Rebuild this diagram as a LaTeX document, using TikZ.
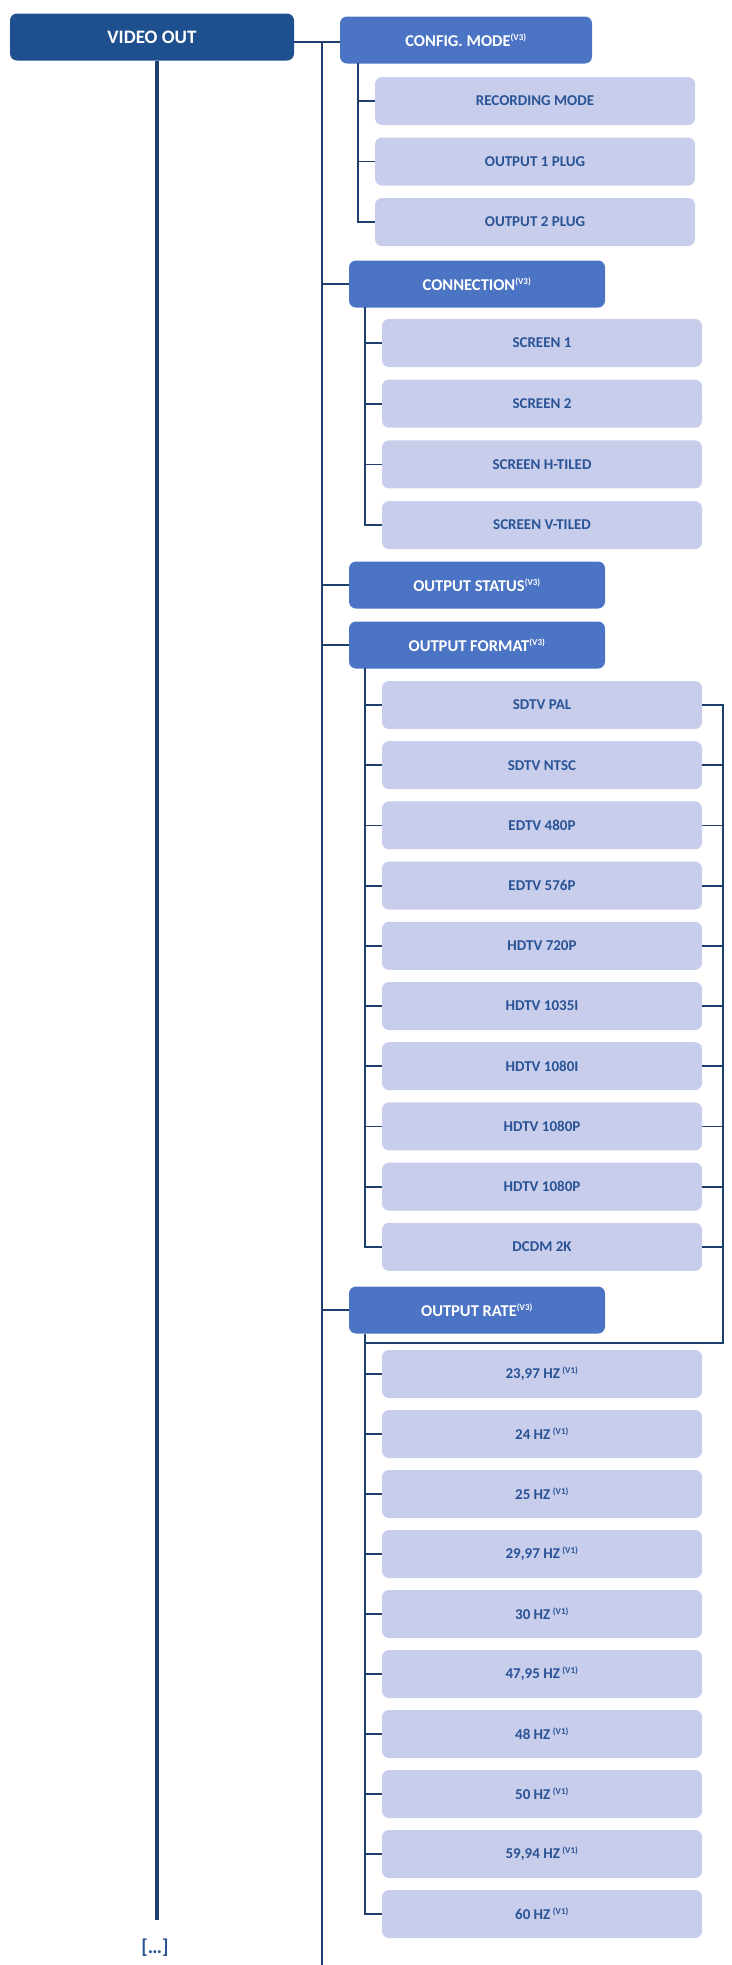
\documentclass[tikz,border=0pt]{standalone}
\usepackage{fontspec}
\setmainfont{Carlito}
\begin{document}
\begin{tikzpicture}[x=1pt,y=-1pt,
  root/.style={fill=rootblue,rounded corners=7pt,text=white,font=\bfseries\fontsize{19}{21}\selectfont,minimum width=284pt,minimum height=47pt,inner sep=0pt},
  lvtwo/.style={fill=midblue,rounded corners=7pt,text=white,font=\bfseries\fontsize{16.5}{18}\selectfont,minimum height=47pt,inner sep=0pt},
  leaf/.style={fill=leafblue,rounded corners=7pt,text=textblue,font=\bfseries\fontsize{15}{17}\selectfont,minimum width=320pt,minimum height=48pt,inner sep=0pt},
  ln/.style={draw=lineblue,line width=1.8pt},
  sup/.style={}]
\definecolor{rootblue}{HTML}{1E4F8F}
\definecolor{midblue}{HTML}{4C74C4}
\definecolor{leafblue}{HTML}{C7CDEB}
\definecolor{textblue}{HTML}{2A5396}
\definecolor{lineblue}{HTML}{1F3F6E}
\useasboundingbox (0,0) rectangle (731,1965);
\newcommand{\vsup}[1]{\textsuperscript{\fontsize{9}{9}\selectfont(#1)}}
% root
\node[root] (vo) at (152,37) {VIDEO OUT};
\node[font=\bfseries\fontsize{20}{22}\selectfont,text=textblue] (dots) at (155,1948) {[\dots]};
\draw[draw=lineblue,line width=4pt] (vo.south -| 157,0) -- (157,1920);
% trunk 2
\coordinate (t2top) at (322,42);
\coordinate (t2bot) at (322,1965);
\draw[ln] (t2top) -- (t2bot);
% level 2
\node[lvtwo,minimum width=252pt] (cfg) at (466,40) {CONFIG. MODE\vsup{V3}};
\node[lvtwo,minimum width=256pt] (con) at (477,284) {CONNECTION\vsup{V3}};
\node[lvtwo,minimum width=256pt] (sta) at (477,585) {OUTPUT STATUS\vsup{V3}};
\node[lvtwo,minimum width=256pt] (fmt) at (477,645) {OUTPUT FORMAT\vsup{V3}};
\node[lvtwo,minimum width=256pt] (rat) at (477,1310) {OUTPUT RATE\vsup{V3}};
\draw[ln] (vo.east |- 0,42) -- (cfg.west |- 0,42);
\foreach \n in {con,sta,fmt,rat} \draw[ln] (t2top |- \n) -- (\n.west);
% config children
\foreach [count=\i from 0] \t/\nm in {RECORDING MODE/c1,OUTPUT 1 PLUG/c2,OUTPUT 2 PLUG/c3}
  \node[leaf] (\nm) at (535,101+60.5*\i) {\t};
\draw[ln] (358,63) |- (c3.west);
\foreach \nm in {c1,c2} \draw[ln] (358,0 |- \nm) -- (\nm.west);
% connection children
\foreach [count=\i from 0] \t/\nm in {SCREEN 1/s1,SCREEN 2/s2,SCREEN H-TILED/s3,SCREEN V-TILED/s4}
  \node[leaf] (\nm) at (542,343+60.7*\i) {\t};
\draw[ln] (365,307) |- (s4.west);
\foreach \nm in {s1,s2,s3} \draw[ln] (365,0 |- \nm) -- (\nm.west);
% format children
\foreach [count=\i from 0] \t in {SDTV PAL,SDTV NTSC,EDTV 480P,EDTV 576P,HDTV 720P,HDTV 1035I,HDTV 1080I,HDTV 1080P,HDTV 1080P,DCDM 2K}
  \node[leaf] (f\i) at (542,705+60.2*\i) {\t};
\draw[ln] (365,668) |- (f9.west);
\foreach \i in {0,...,8} \draw[ln] (365,0 |- f\i) -- (f\i.west);
\coordinate (br) at (723,1343);
\draw[ln] (f0.east) -| (br) -- (365,1343);
\foreach \i in {1,...,9} \draw[ln] (f\i.east) -- (723,0 |- f\i);
% rate children
\foreach [count=\i from 0] \t in {23,97,24,25,29,97,30,47,95,48,50,59,94,60}
  {}
\foreach [count=\i from 0] \t in {{23,97 HZ},{24 HZ},{25 HZ},{29,97 HZ},{30 HZ},{47,95 HZ},{48 HZ},{50 HZ},{59,94 HZ},{60 HZ}}
  \node[leaf] (r\i) at (542,1374+60*\i) {\t\,\vsup{V1}};
\draw[ln] (365,1334) |- (r9.west);
\foreach \i in {0,...,8} \draw[ln] (365,0 |- r\i) -- (r\i.west);
\end{tikzpicture}
\end{document}
